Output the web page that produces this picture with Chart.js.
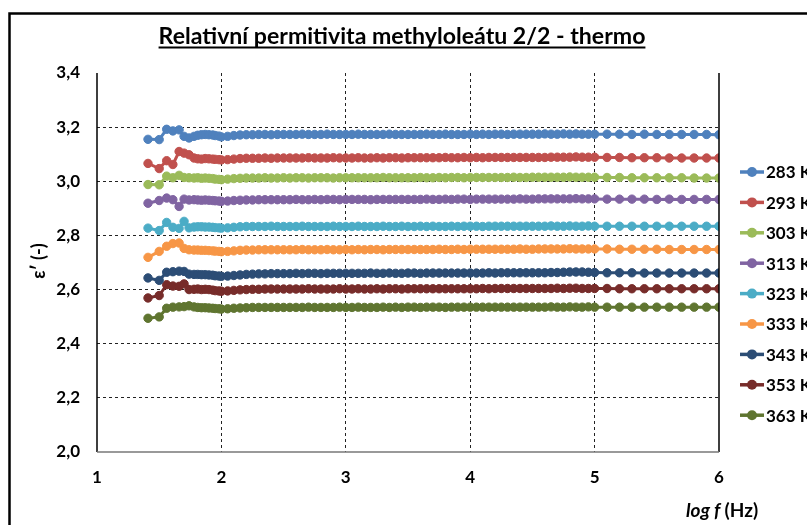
<!DOCTYPE html>
<html>
<head>
<meta charset="utf-8">
<script src="https://cdn.jsdelivr.net/npm/chart.js@4"></script>
<style>
  html, body { margin: 0; padding: 0; background: #fff; overflow: hidden; }
  #wrap { width: 807px; height: 525px; }
</style>
</head>
<body>
<div id="wrap"><canvas id="permChart" width="807" height="525"></canvas></div>
<script>
// log f (Hz) values of the measured points
const logF = [
  1.41, 1.50, 1.56, 1.61, 1.66, 1.70, 1.74, 1.78, 1.81, 1.84, 1.87, 1.90, 1.93, 1.95, 1.98,
  2.00, 2.05, 2.10, 2.15, 2.20, 2.25, 2.30, 2.35, 2.40, 2.45, 2.50,
  2.55, 2.60, 2.65, 2.70, 2.75, 2.80, 2.85, 2.90, 2.95, 3.00,
  3.05, 3.10, 3.15, 3.20, 3.25, 3.30, 3.35, 3.40, 3.45, 3.50,
  3.55, 3.60, 3.65, 3.70, 3.75, 3.80, 3.85, 3.90, 3.95, 4.00,
  4.05, 4.10, 4.15, 4.20, 4.25, 4.30, 4.35, 4.40, 4.45, 4.50,
  4.55, 4.60, 4.65, 4.70, 4.75, 4.80, 4.85, 4.90, 4.95, 5.00,
  5.10, 5.20, 5.30, 5.40, 5.50, 5.60, 5.70, 5.80, 5.90, 6.00
];

const seriesLabels = ['283 K', '293 K', '303 K', '313 K', '323 K', '333 K', '343 K', '353 K', '363 K'];

const e283 = [
  3.155, 3.154, 3.192, 3.186, 3.190, 3.166, 3.160, 3.166, 3.170, 3.172, 3.173, 3.172, 3.171, 3.169, 3.167,
  3.164, 3.166, 3.169, 3.171, 3.172, 3.172, 3.173, 3.173, 3.172, 3.173, 3.173,
  3.173, 3.173, 3.174, 3.173, 3.173, 3.173, 3.174, 3.173, 3.173, 3.173,
  3.173, 3.174, 3.173, 3.173, 3.173, 3.173, 3.174, 3.173, 3.173, 3.173,
  3.173, 3.173, 3.174, 3.173, 3.173, 3.174, 3.173, 3.173, 3.173, 3.174,
  3.173, 3.174, 3.173, 3.174, 3.174, 3.173, 3.174, 3.174, 3.174, 3.174,
  3.174, 3.175, 3.174, 3.174, 3.175, 3.174, 3.175, 3.174, 3.174, 3.174,
  3.174, 3.174, 3.173, 3.174, 3.173, 3.173, 3.173, 3.173, 3.173, 3.172
];
const e293 = [
  3.066, 3.047, 3.076, 3.062, 3.110, 3.104, 3.098, 3.086, 3.083, 3.082, 3.084, 3.083, 3.082, 3.081, 3.080,
  3.079, 3.080, 3.082, 3.084, 3.085, 3.085, 3.085, 3.086, 3.085, 3.086, 3.086,
  3.086, 3.086, 3.086, 3.087, 3.086, 3.086, 3.086, 3.087, 3.086, 3.086,
  3.086, 3.087, 3.086, 3.086, 3.087, 3.086, 3.087, 3.087, 3.086, 3.087,
  3.087, 3.087, 3.087, 3.087, 3.087, 3.088, 3.087, 3.087, 3.088, 3.087,
  3.088, 3.087, 3.088, 3.088, 3.088, 3.088, 3.088, 3.088, 3.088, 3.088,
  3.088, 3.088, 3.089, 3.089, 3.089, 3.089, 3.090, 3.089, 3.089, 3.089,
  3.088, 3.088, 3.087, 3.087, 3.087, 3.086, 3.086, 3.086, 3.086, 3.086
];
const e303 = [
  2.988, 2.987, 3.019, 3.013, 3.022, 3.014, 3.013, 3.012, 3.013, 3.011, 3.012, 3.011, 3.010, 3.008, 3.007,
  3.006, 3.008, 3.010, 3.011, 3.012, 3.012, 3.012, 3.013, 3.012, 3.012, 3.013,
  3.012, 3.013, 3.013, 3.012, 3.013, 3.013, 3.013, 3.012, 3.013, 3.013,
  3.013, 3.013, 3.013, 3.013, 3.013, 3.014, 3.013, 3.013, 3.013, 3.013,
  3.013, 3.014, 3.013, 3.013, 3.014, 3.013, 3.014, 3.014, 3.013, 3.014,
  3.014, 3.014, 3.014, 3.014, 3.014, 3.014, 3.015, 3.014, 3.014, 3.015,
  3.015, 3.015, 3.015, 3.015, 3.015, 3.016, 3.015, 3.015, 3.015, 3.015,
  3.014, 3.014, 3.013, 3.013, 3.013, 3.013, 3.013, 3.012, 3.012, 3.012
];
const e313 = [
  2.919, 2.929, 2.938, 2.932, 2.907, 2.934, 2.931, 2.932, 2.931, 2.930, 2.931, 2.930, 2.929, 2.928, 2.927,
  2.926, 2.927, 2.929, 2.930, 2.931, 2.931, 2.932, 2.932, 2.932, 2.932, 2.932,
  2.932, 2.933, 2.932, 2.932, 2.933, 2.932, 2.933, 2.933, 2.932, 2.933,
  2.933, 2.933, 2.933, 2.932, 2.933, 2.933, 2.933, 2.933, 2.933, 2.933,
  2.933, 2.933, 2.934, 2.933, 2.933, 2.934, 2.933, 2.934, 2.934, 2.933,
  2.934, 2.934, 2.934, 2.934, 2.934, 2.934, 2.934, 2.935, 2.934, 2.934,
  2.935, 2.935, 2.935, 2.935, 2.935, 2.935, 2.936, 2.935, 2.935, 2.935,
  2.934, 2.934, 2.934, 2.934, 2.933, 2.934, 2.933, 2.933, 2.933, 2.933
];
const e323 = [
  2.827, 2.818, 2.848, 2.830, 2.826, 2.852, 2.828, 2.831, 2.832, 2.832, 2.831, 2.831, 2.830, 2.829, 2.828,
  2.827, 2.828, 2.830, 2.832, 2.833, 2.833, 2.833, 2.833, 2.834, 2.833, 2.833,
  2.833, 2.833, 2.834, 2.833, 2.833, 2.833, 2.833, 2.834, 2.833, 2.833,
  2.833, 2.834, 2.833, 2.833, 2.833, 2.834, 2.833, 2.833, 2.834, 2.833,
  2.833, 2.834, 2.833, 2.834, 2.833, 2.833, 2.834, 2.833, 2.834, 2.834,
  2.834, 2.833, 2.834, 2.834, 2.834, 2.834, 2.834, 2.834, 2.834, 2.834,
  2.834, 2.834, 2.835, 2.834, 2.834, 2.835, 2.834, 2.834, 2.835, 2.834,
  2.834, 2.834, 2.834, 2.834, 2.834, 2.834, 2.834, 2.834, 2.834, 2.834
];
const e333 = [
  2.719, 2.741, 2.760, 2.770, 2.772, 2.752, 2.747, 2.746, 2.746, 2.745, 2.745, 2.744, 2.743, 2.742, 2.741,
  2.740, 2.741, 2.743, 2.745, 2.746, 2.746, 2.747, 2.747, 2.747, 2.747, 2.747,
  2.747, 2.747, 2.748, 2.747, 2.747, 2.747, 2.748, 2.747, 2.747, 2.748,
  2.747, 2.748, 2.747, 2.748, 2.748, 2.747, 2.748, 2.748, 2.748, 2.748,
  2.748, 2.748, 2.748, 2.748, 2.749, 2.748, 2.748, 2.749, 2.748, 2.749,
  2.749, 2.749, 2.749, 2.749, 2.749, 2.749, 2.749, 2.750, 2.749, 2.749,
  2.750, 2.750, 2.750, 2.750, 2.750, 2.751, 2.750, 2.750, 2.750, 2.750,
  2.750, 2.749, 2.749, 2.749, 2.749, 2.748, 2.748, 2.748, 2.748, 2.748
];
const e343 = [
  2.643, 2.634, 2.664, 2.666, 2.668, 2.667, 2.657, 2.656, 2.656, 2.655, 2.655, 2.654, 2.653, 2.651, 2.650,
  2.649, 2.650, 2.652, 2.654, 2.656, 2.657, 2.658, 2.658, 2.659, 2.659, 2.659,
  2.659, 2.660, 2.659, 2.660, 2.660, 2.659, 2.660, 2.660, 2.660, 2.660,
  2.660, 2.660, 2.660, 2.661, 2.660, 2.660, 2.661, 2.660, 2.660, 2.661,
  2.661, 2.660, 2.661, 2.661, 2.661, 2.661, 2.661, 2.661, 2.661, 2.661,
  2.661, 2.661, 2.662, 2.661, 2.662, 2.662, 2.662, 2.662, 2.662, 2.662,
  2.662, 2.662, 2.663, 2.663, 2.664, 2.665, 2.665, 2.665, 2.664, 2.663,
  2.662, 2.662, 2.662, 2.661, 2.661, 2.661, 2.661, 2.661, 2.661, 2.661
];
const e353 = [
  2.569, 2.578, 2.618, 2.613, 2.612, 2.621, 2.600, 2.601, 2.602, 2.600, 2.601, 2.600, 2.598, 2.596, 2.595,
  2.594, 2.595, 2.597, 2.599, 2.600, 2.601, 2.601, 2.602, 2.602, 2.602, 2.602,
  2.602, 2.602, 2.602, 2.603, 2.602, 2.602, 2.602, 2.602, 2.603, 2.602,
  2.602, 2.603, 2.602, 2.602, 2.603, 2.602, 2.603, 2.603, 2.602, 2.603,
  2.603, 2.603, 2.603, 2.603, 2.603, 2.603, 2.603, 2.603, 2.603, 2.603,
  2.603, 2.604, 2.603, 2.604, 2.604, 2.604, 2.604, 2.604, 2.604, 2.604,
  2.604, 2.604, 2.604, 2.605, 2.604, 2.605, 2.605, 2.604, 2.604, 2.604,
  2.604, 2.603, 2.603, 2.603, 2.603, 2.603, 2.603, 2.603, 2.603, 2.603
];
const e363 = [
  2.494, 2.499, 2.531, 2.535, 2.536, 2.537, 2.540, 2.536, 2.534, 2.533, 2.533, 2.532, 2.531, 2.530, 2.529,
  2.528, 2.529, 2.531, 2.532, 2.533, 2.534, 2.534, 2.534, 2.534, 2.534, 2.534,
  2.534, 2.534, 2.534, 2.535, 2.534, 2.534, 2.534, 2.534, 2.535, 2.534,
  2.534, 2.535, 2.534, 2.534, 2.534, 2.535, 2.534, 2.535, 2.534, 2.535,
  2.535, 2.534, 2.535, 2.535, 2.535, 2.534, 2.535, 2.535, 2.535, 2.535,
  2.535, 2.535, 2.535, 2.535, 2.535, 2.535, 2.535, 2.535, 2.535, 2.535,
  2.535, 2.535, 2.536, 2.535, 2.535, 2.536, 2.535, 2.535, 2.536, 2.535,
  2.535, 2.535, 2.535, 2.535, 2.535, 2.535, 2.535, 2.535, 2.535, 2.535
];

const seriesValues = [e283, e293, e303, e313, e323, e333, e343, e353, e363];
const seriesColors = ['#4F81BD', '#C0504D', '#9BBB59', '#8064A2', '#4BACC6', '#F79646', '#2C4D75', '#772C2A', '#5F7530'];

const FONT = 'Lato, "Open Sans", sans-serif';

const datasets = seriesLabels.map((lab, i) => ({
  label: lab,
  data: logF.map((x, j) => ({ x: x, y: seriesValues[i][j] })),
  borderColor: seriesColors[i],
  backgroundColor: seriesColors[i],
  pointBackgroundColor: seriesColors[i],
  pointBorderColor: seriesColors[i],
  borderWidth: 3,
  pointRadius: 4.2,
  pointBorderWidth: 1,
  tension: 0
}));

// title, axis titles, custom legend and frame lines
const decorations = {
  id: 'decorations',
  afterDraw(chart) {
    const ctx = chart.ctx;
    const a = chart.chartArea;
    ctx.save();

    // outer chart frame (cropped at right and bottom)
    ctx.strokeStyle = '#000';
    ctx.lineWidth = 2.5;
    ctx.beginPath();
    ctx.moveTo(9.5, 530);
    ctx.lineTo(9.5, 13.5);
    ctx.lineTo(820, 13.5);
    ctx.stroke();

    // plot area axes
    ctx.lineWidth = 1.5;
    ctx.strokeStyle = '#000';
    ctx.beginPath();
    ctx.moveTo(a.left, a.top);
    ctx.lineTo(a.left, a.bottom);
    ctx.moveTo(a.right, a.top);
    ctx.lineTo(a.right, a.bottom);
    ctx.stroke();
    ctx.strokeStyle = '#777';
    ctx.beginPath();
    ctx.moveTo(a.left, a.bottom);
    ctx.lineTo(a.right, a.bottom);
    ctx.stroke();

    // title, sized to the reference width
    ctx.fillStyle = '#000';
    const title = 'Relativní permitivita methyloleátu 2/2 - thermo';
    ctx.font = 'bold 20px ' + FONT;
    const size = 20 * 487 / ctx.measureText(title).width;
    ctx.font = 'bold ' + size.toFixed(1) + 'px ' + FONT;
    ctx.textAlign = 'center';
    ctx.textBaseline = 'alphabetic';
    const tw = ctx.measureText(title).width;
    const tx = 402;
    ctx.fillText(title, tx, 44);
    ctx.lineWidth = 1.8;
    ctx.strokeStyle = '#000';
    ctx.beginPath();
    ctx.moveTo(tx - tw / 2, 47.5);
    ctx.lineTo(tx + tw / 2, 47.5);
    ctx.stroke();

    // y axis title
    ctx.save();
    ctx.translate(39, 261);
    ctx.rotate(-Math.PI / 2);
    ctx.font = 'bold 18px ' + FONT;
    ctx.textBaseline = 'middle';
    ctx.fillText('ε′ (-)', 0, 0);
    ctx.restore();

    // x axis title
    ctx.textAlign = 'left';
    ctx.textBaseline = 'middle';
    ctx.font = 'italic bold 19px ' + FONT;
    const part1 = 'log f';
    ctx.fillText(part1, 686, 511);
    const w1 = ctx.measureText(part1 + ' ').width;
    ctx.font = 'bold 19px ' + FONT;
    ctx.fillText('(Hz)', 686 + w1, 511);

    // legend
    ctx.font = 'bold 17px ' + FONT;
    chart.data.datasets.forEach((ds, i) => {
      const y = 172 + i * 30.4;
      ctx.strokeStyle = ds.borderColor;
      ctx.lineWidth = 3.5;
      ctx.beginPath();
      ctx.moveTo(740, y);
      ctx.lineTo(764, y);
      ctx.stroke();
      ctx.fillStyle = ds.borderColor;
      ctx.beginPath();
      ctx.arc(752, y, 5, 0, Math.PI * 2);
      ctx.fill();
      ctx.fillStyle = '#000';
      ctx.fillText(ds.label, 766, y + 1);
    });

    ctx.restore();
  }
};

const ctxPerm = document.getElementById('permChart').getContext('2d');

const permChart = new Chart(ctxPerm, {
  type: 'line',
  data: { datasets: datasets },
  options: {
    responsive: false,
    animation: false,
    layout: { padding: { left: 0, top: 73, right: 88, bottom: 0 } },
    plugins: {
      legend: { display: false },
      title: { display: false },
      tooltip: { enabled: false }
    },
    scales: {
      x: {
        type: 'linear',
        min: 1,
        max: 6,
        ticks: {
          stepSize: 1,
          padding: 15,
          color: '#000',
          font: { family: FONT, size: 17, weight: 'bold' }
        },
        grid: {
          drawTicks: false,
          color: (c) => (c.tick && (c.tick.value <= 1 || c.tick.value >= 6)) ? 'rgba(0,0,0,0)' : '#222',
          lineWidth: 1
        },
        border: { display: false, dash: [3, 3] },
        afterFit: (s) => { s.height = 73; }
      },
      y: {
        min: 2,
        max: 3.4,
        ticks: {
          stepSize: 0.2,
          padding: 17,
          color: '#000',
          font: { family: FONT, size: 17, weight: 'bold' },
          callback: (v) => Number(v).toFixed(1).replace('.', ',')
        },
        grid: {
          drawTicks: false,
          color: (c) => (c.tick && (c.tick.value <= 2.001 || c.tick.value >= 3.399)) ? 'rgba(0,0,0,0)' : '#222',
          lineWidth: 1
        },
        border: { display: false, dash: [3, 3] },
        afterFit: (s) => { s.width = 97; }
      }
    }
  },
  plugins: [decorations]
});
</script>
</body>
</html>
